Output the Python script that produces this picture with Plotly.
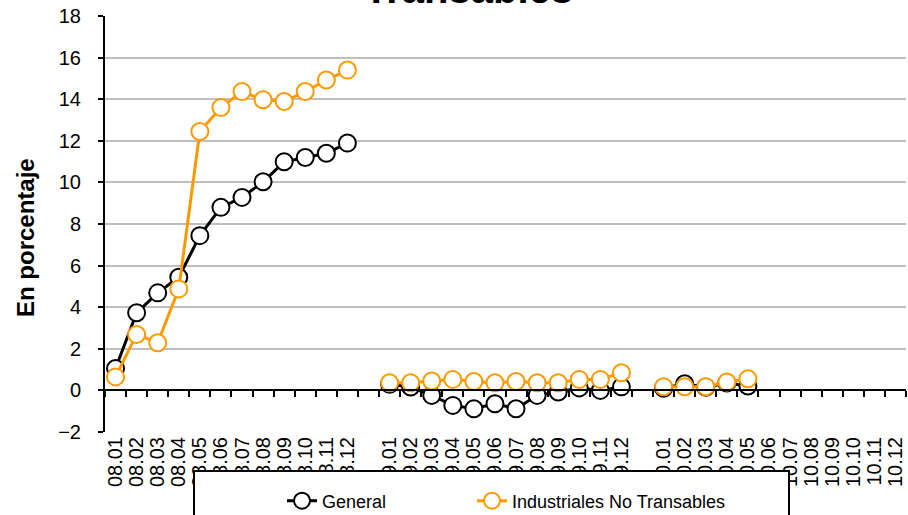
import plotly.graph_objects as go

# ---- data ----
months = ["01", "02", "03", "04", "05", "06", "07", "08", "09", "10", "11", "12"]
labels_08 = ["08." + m for m in months]
labels_09 = ["09." + m for m in months]
labels_10 = ["10." + m for m in months]
gap_a = "gap_a"
gap_b = "gap_b"
categories = labels_08 + [gap_a] + labels_09 + [gap_b] + labels_10
tick_labels = labels_08 + labels_09 + labels_10

general_08 = [1.05, 3.73, 4.69, 5.44, 7.44, 8.80, 9.28, 10.03, 10.99, 11.2, 11.4, 11.89]
general_09 = [0.3, 0.16, -0.24, -0.72, -0.88, -0.64, -0.88, -0.24, -0.08, 0.12, 0.0, 0.17]
general_10 = [0.1, 0.32, 0.15, 0.35, 0.21, None, None, None, None, None, None, None]

industriales_08 = [0.65, 2.69, 2.29, 4.88, 12.45, 13.6, 14.37, 13.97, 13.89, 14.37, 14.92, 15.4]
industriales_09 = [0.37, 0.37, 0.45, 0.53, 0.43, 0.37, 0.43, 0.37, 0.37, 0.53, 0.53, 0.85]
industriales_10 = [0.18, 0.18, 0.18, 0.4, 0.56, None, None, None, None, None, None, None]

general = general_08 + [None] + general_09 + [None] + general_10
industriales = industriales_08 + [None] + industriales_09 + [None] + industriales_10

y_min, y_max = -2, 18
FONT = "Liberation Sans, Arial, sans-serif"
ORANGE = "#FF9900"

W, H = 908, 515
ML, MR, MT, MB = 105, 2, 16, 83
PW, PH = W - ML - MR, H - MT - MB


def px_x(p):
    """screen pixel x -> paper fraction"""
    return (p - ML) / PW


def px_y(p):
    """screen pixel y -> paper fraction"""
    return (H - MB - p) / PH


fig = go.Figure()
fig.add_trace(go.Scatter(
    x=categories, y=general, name="General", mode="lines+markers",
    line=dict(color="black", width=3),
    marker=dict(symbol="circle", size=17, color="white", line=dict(color="black", width=2)),
    connectgaps=False, legend="legend",
))
fig.add_trace(go.Scatter(
    x=categories, y=industriales, name="Industriales No Transables", mode="lines+markers",
    line=dict(color=ORANGE, width=3),
    marker=dict(symbol="circle", size=17, color="white", line=dict(color=ORANGE, width=2)),
    connectgaps=False, legend="legend2",
))
# helper trace so the zero-crossing axis is drawn
fig.add_trace(go.Scatter(x=categories, y=[None] * len(categories), xaxis="x2",
                         showlegend=False, hoverinfo="skip", mode="lines"))

zero_pos = (0 - y_min) / (y_max - y_min)

legend_common = dict(
    orientation="h", xanchor="left", yanchor="middle",
    bgcolor="rgba(0,0,0,0)", borderwidth=0,
    font=dict(size=18, family=FONT, color="black"),
)

fig.update_layout(
    width=W, height=H,
    margin=dict(l=ML, r=MR, t=MT, b=MB, autoexpand=False),
    plot_bgcolor="white", paper_bgcolor="white",
    font=dict(family=FONT, color="black"),
    showlegend=True,
    xaxis=dict(
        type="category", categoryorder="array", categoryarray=categories,
        range=[-0.5, len(categories) - 0.5],
        tickmode="array", tickvals=tick_labels, ticktext=tick_labels,
        tickangle=-90, tickfont=dict(size=20, family=FONT, color="black"),
        showline=False, showgrid=False, zeroline=False, ticks="",
        automargin=False, fixedrange=True,
    ),
    xaxis2=dict(
        type="category", categoryorder="array", categoryarray=categories,
        range=[-0.5, len(categories) - 0.5],
        overlaying="x", anchor="free", position=zero_pos, side="bottom",
        tickmode="array", tickvals=categories, tickson="boundaries",
        ticks="outside", ticklen=6, tickwidth=2, tickcolor="black",
        showticklabels=False, showline=True, linecolor="black", linewidth=2,
        showgrid=False, zeroline=False, automargin=False,
    ),
    yaxis=dict(
        range=[y_min, y_max], dtick=2, tick0=0,
        showgrid=True, gridcolor="#BFBFBF", gridwidth=1.5,
        showline=True, linecolor="black", linewidth=2,
        ticks="outside", ticklen=5, tickwidth=2, tickcolor="black",
        tickfont=dict(size=20, family=FONT, color="black"),
        ticklabelstandoff=13,
        zeroline=False, automargin=False,
    ),
    legend=dict(x=px_x(282), y=px_y(501), **legend_common),
    legend2=dict(x=px_x(472), y=px_y(501), **legend_common),
    shapes=[dict(
        type="rect", xref="paper", yref="paper",
        x0=px_x(194), x1=px_x(789), y0=px_y(530), y1=px_y(471),
        fillcolor="white", line=dict(color="black", width=2), layer="above",
    )],
    annotations=[
        dict(text="<b>Transables</b>", xref="paper", yref="paper",
             x=px_x(468), y=px_y(13), xanchor="center", yanchor="bottom",
             showarrow=False, font=dict(size=40, family=FONT, color="black")),
        dict(text="<b>En porcentaje</b>", xref="paper", yref="paper",
             x=px_x(25), y=px_y(238), xanchor="center", yanchor="middle",
             textangle=-90, showarrow=False,
             font=dict(size=24, family=FONT, color="black")),
    ],
)

fig.write_html(
    "out.html",
    config={"displayModeBar": False},
    post_script="document.body.style.margin='0';document.body.style.padding='0';",
)
